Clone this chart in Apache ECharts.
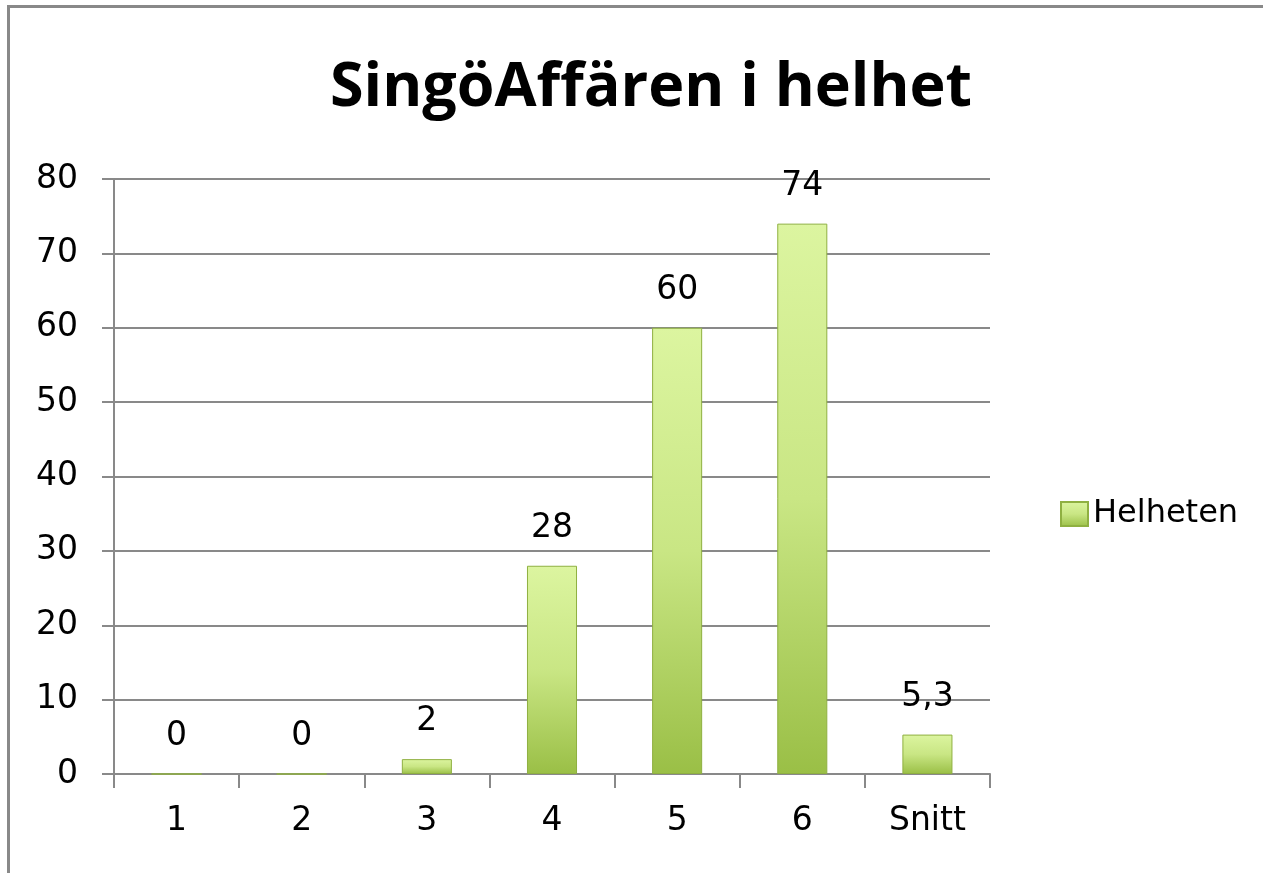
<!DOCTYPE html>
<html>
<head>
<meta charset="utf-8">
<script src="https://cdn.jsdelivr.net/npm/echarts@6/dist/echarts.min.js"></script>
<style>
  html, body { margin: 0; padding: 0; background: #fff; }
  #frame { position: absolute; left: 7px; top: 5px; width: 1300px; height: 900px;
           border-left: 3px solid #898989; border-top: 3px solid #898989; }
  #container { position: absolute; left: 0; top: 0; width: 1263px; height: 873px; }
</style>
</head>
<body>
<div id="frame"></div>
<div id="container"></div>
<script>
// data
var categories = ['1', '2', '3', '4', '5', '6', 'Snitt'];
var values = [0, 0, 2, 28, 60, 74, 5.3];
var seriesName = 'Helheten';
var titleText = 'SingöAffären i helhet';

var dom = document.getElementById('container');
var myChart = echarts.init(dom);

var barColor = new echarts.graphic.LinearGradient(0, 0, 0, 1, [
    {offset: 0, color: '#dcf5a0'},
    {offset: 0.5, color: '#c9e684'},
    {offset: 1, color: '#9abf46'}
]);

var option = {
    animation: false,
    textStyle: {fontFamily: 'DejaVu Sans'},
    title: {
        text: titleText,
        left: 646,
        top: 53,
        textAlign: 'center',
        textStyle: {fontFamily: 'Open Sans', fontWeight: 'bold', fontSize: 61, color: '#000'}
    },
    legend: {
        data: [seriesName],
        orient: 'vertical',
        left: 1055,
        top: 493,
        itemWidth: 27,
        itemHeight: 24,
        itemGap: 8,
        icon: 'rect',
        textStyle: {fontFamily: 'DejaVu Sans', fontSize: 32, color: '#000'}
    },
    grid: {left: 114, right: 273, top: 179, bottom: 99},
    xAxis: {
        type: 'category',
        data: categories,
        axisLine: {lineStyle: {color: '#898989', width: 2}},
        axisTick: {show: true, length: 14, lineStyle: {color: '#898989', width: 2}},
        axisLabel: {margin: 31, fontSize: 33, color: '#000', fontFamily: 'DejaVu Sans'},
        splitLine: {show: false}
    },
    yAxis: {
        type: 'value',
        min: 0,
        max: 80,
        interval: 10,
        axisLine: {show: true, lineStyle: {color: '#898989', width: 2}},
        axisTick: {show: true, length: 12, lineStyle: {color: '#898989', width: 2}},
        axisLabel: {margin: 36, fontSize: 33, color: '#000', fontFamily: 'DejaVu Sans'},
        splitLine: {show: true, lineStyle: {color: '#898989', width: 2}}
    },
    series: [
        {
            name: seriesName,
            type: 'bar',
            barWidth: '40%',
            data: values,
            itemStyle: {
                color: barColor,
                borderColor: '#8fb041',
                borderWidth: 1
            },
            label: {
                show: true,
                position: 'top',
                distance: 21,
                fontSize: 33,
                color: '#000',
                fontFamily: 'DejaVu Sans',
                formatter: function (p) {
                    return String(p.value).replace('.', ',');
                }
            }
        }
    ]
};

myChart.setOption(option, true);
</script>
</body>
</html>
